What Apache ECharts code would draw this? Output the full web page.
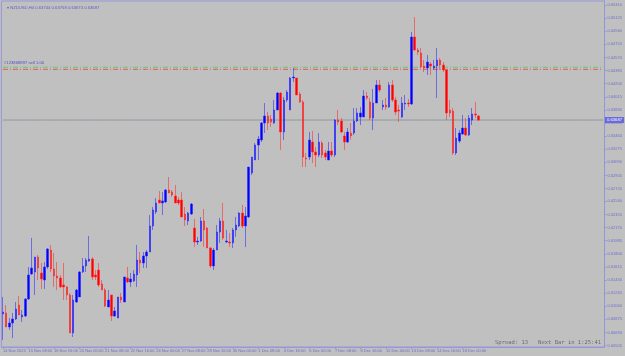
<!DOCTYPE html>
<html><head><meta charset="utf-8">
<script src="https://cdn.jsdelivr.net/npm/echarts@6/dist/echarts.min.js"></script>
<style>html,body{margin:0;padding:0;background:#c0c0c0}#c{width:625px;height:356px}</style>
</head><body><div id="c"></div>
<script>
const symbolTitle = 'NZDUSD,H4';
const opens = [0.60951,0.60965,0.60767,0.60824,0.60880,0.61078,0.60908,0.60922,0.61162,0.61515,
0.61543,0.61755,0.61529,0.61430,0.61614,0.61853,0.61586,0.61487,0.61459,0.61360,
0.61332,0.61219,0.60683,0.61120,0.61191,0.61543,0.61628,0.61698,0.61727,0.61501,
0.61571,0.61374,0.61289,0.61049,0.61219,0.60922,0.60894,0.61191,0.61120,0.61459,
0.61402,0.61416,0.61501,0.61712,0.61670,0.61769,0.61825,0.62192,0.62390,0.62559,
0.62517,0.62531,0.62700,0.62672,0.62615,0.62559,0.62559,0.62361,0.62263,0.62361,
0.62164,0.61966,0.61980,0.62263,0.62164,0.61882,0.61628,0.61853,0.62107,0.62263,
0.61966,0.61966,0.61952,0.62136,0.62192,0.62375,0.62192,0.62319,0.62940,0.63123,
0.63335,0.63405,0.63645,0.63744,0.63701,0.63645,0.63828,0.64068,0.63518,0.63969,
0.63828,0.64280,0.64280,0.64054,0.63941,0.63151,0.63165,0.63377,0.63236,0.63194,
0.63363,0.63222,0.63123,0.63250,0.63194,0.63687,0.63673,0.63462,0.63377,0.63504,
0.63504,0.63673,0.63730,0.63730,0.64026,0.63941,0.63715,0.63927,0.64181,0.63871,
0.63899,0.63871,0.64181,0.63969,0.63828,0.63730,0.63913,0.63927,0.63913,0.64858,
0.64675,0.64632,0.64449,0.64421,0.64477,0.64421,0.64449,0.64534,0.64463,0.64393,
0.63828,0.63814,0.63222,0.63391,0.63490,0.63574,0.63476,0.63687,0.63772,0.63744];
const closes = [0.60979,0.60767,0.60824,0.60880,0.61021,0.60937,0.60937,0.61162,0.61501,0.61600,
0.61755,0.61600,0.61444,0.61614,0.61868,0.61586,0.61487,0.61459,0.61332,0.61332,
0.61219,0.60683,0.61148,0.61289,0.61543,0.61628,0.61712,0.61727,0.61473,0.61473,
0.61360,0.61289,0.61064,0.61148,0.60922,0.60993,0.61191,0.61148,0.61473,0.61402,
0.61444,0.61515,0.61712,0.61670,0.61769,0.61825,0.62192,0.62418,0.62517,0.62517,
0.62545,0.62700,0.62658,0.62629,0.62517,0.62517,0.62319,0.62277,0.62375,0.62502,
0.61966,0.61980,0.62263,0.62136,0.61882,0.61628,0.61853,0.62107,0.62263,0.62023,
0.61980,0.61952,0.62136,0.62206,0.62375,0.62192,0.62333,0.63024,0.63165,0.63335,
0.63419,0.63645,0.63744,0.63645,0.63659,0.63828,0.64068,0.63518,0.63969,0.64082,
0.64280,0.64294,0.64040,0.63941,0.63165,0.63137,0.63405,0.63236,0.63194,0.63377,
0.63194,0.63165,0.63250,0.63194,0.63687,0.63659,0.63518,0.63377,0.63518,0.63462,
0.63673,0.63786,0.63786,0.64026,0.63998,0.63715,0.63927,0.64181,0.64110,0.63899,
0.63871,0.64181,0.63969,0.63800,0.63814,0.63927,0.63927,0.63913,0.64858,0.64675,
0.64646,0.64435,0.64421,0.64505,0.64449,0.64449,0.64534,0.64463,0.64393,0.63786,
0.63786,0.63222,0.63433,0.63504,0.63574,0.63476,0.63715,0.63772,0.63758,0.63687];
const lows = [0.60584,0.60767,0.60725,0.60612,0.60866,0.60937,0.60838,0.60908,0.61148,0.61501,
0.61219,0.61430,0.61303,0.61303,0.61586,0.61543,0.61332,0.61289,0.61318,0.61148,
0.61148,0.60683,0.60626,0.61106,0.61191,0.61529,0.61543,0.61684,0.61430,0.61430,
0.61332,0.61289,0.61049,0.61049,0.60852,0.60908,0.60894,0.61106,0.61120,0.61388,
0.61332,0.61402,0.61332,0.61529,0.61600,0.61600,0.61825,0.62136,0.62361,0.62517,
0.62347,0.62517,0.62658,0.62601,0.62517,0.62488,0.62319,0.62192,0.62206,0.62347,
0.61896,0.61924,0.61966,0.61896,0.61882,0.61600,0.61571,0.61853,0.61952,0.61995,
0.61952,0.61896,0.61882,0.62037,0.62178,0.62164,0.61896,0.62305,0.62911,0.63123,
0.63123,0.63377,0.63504,0.63546,0.63589,0.63631,0.63828,0.63264,0.63405,0.63941,
0.63828,0.64223,0.64040,0.63927,0.63024,0.63024,0.63123,0.63081,0.63024,0.63165,
0.63151,0.63123,0.63123,0.63165,0.63165,0.63617,0.63504,0.63264,0.63363,0.63405,
0.63476,0.63659,0.63617,0.63730,0.63969,0.63687,0.63546,0.63927,0.64082,0.63828,
0.63828,0.63857,0.63941,0.63758,0.63659,0.63715,0.63828,0.63871,0.63899,0.64661,
0.64604,0.64421,0.64364,0.64322,0.64322,0.64393,0.63998,0.64393,0.64364,0.63687,
0.63730,0.63194,0.63194,0.63363,0.63476,0.63462,0.63462,0.63617,0.63715,0.63673];
const highs = [0.61191,0.61078,0.60894,0.60965,0.61120,0.61205,0.61007,0.61176,0.61614,0.62023,
0.61755,0.61783,0.61670,0.61684,0.61882,0.61924,0.61811,0.61684,0.61501,0.61670,
0.61346,0.61247,0.61219,0.61303,0.61557,0.61741,0.61741,0.62051,0.61755,0.61571,
0.61670,0.61430,0.61318,0.61289,0.61219,0.61049,0.61191,0.61247,0.61473,0.61614,
0.61529,0.61571,0.61924,0.61825,0.61825,0.61853,0.62347,0.62460,0.62587,0.62686,
0.62672,0.62714,0.62883,0.62700,0.62770,0.62601,0.62672,0.62460,0.62390,0.62517,
0.62291,0.62037,0.62319,0.62432,0.62178,0.61896,0.61882,0.62206,0.62305,0.62517,
0.62136,0.62093,0.62164,0.62319,0.62390,0.62488,0.62460,0.63024,0.63165,0.63363,
0.63462,0.63659,0.63927,0.63800,0.63758,0.63969,0.64082,0.64082,0.64012,0.64110,
0.64294,0.64421,0.64280,0.64082,0.63969,0.63222,0.63518,0.63532,0.63306,0.63504,
0.63391,0.63264,0.63377,0.63377,0.63701,0.63828,0.63715,0.63518,0.63574,0.63645,
0.63857,0.63857,0.63871,0.64110,0.64082,0.63998,0.64125,0.64251,0.64251,0.63969,
0.63998,0.64223,0.64251,0.64012,0.63899,0.64012,0.64040,0.63983,0.64929,0.65140,
0.64703,0.64703,0.64534,0.64604,0.64505,0.64534,0.64703,0.64562,0.64505,0.64393,
0.63969,0.63857,0.63574,0.63546,0.63758,0.63715,0.63758,0.63857,0.63941,0.63758];
const xTickLabels = ['14 Nov 2023','15 Nov 08:00','16 Nov 16:00','20 Nov 00:00','21 Nov 08:00','22 Nov 16:00','24 Nov 00:00','27 Nov 08:00','28 Nov 16:00','30 Nov 00:00','1 Dec 08:00','4 Dec 16:00','6 Dec 00:00','7 Dec 08:00','8 Dec 16:00','12 Dec 00:00','13 Dec 08:00','14 Dec 16:00','18 Dec 00:00'];
const yTicks = [0.65310,0.65125,0.64940,0.64755,0.64570,0.64385,0.64200,0.64015,0.63830,0.63645,0.63460,0.63275,0.63090,0.62905,0.62720,0.62540,0.62355,0.62170,0.61985,0.61800,0.61615,0.61430,0.61245,0.61060,0.60875,0.60690,0.60505];
const orderPrice = 0.64431;
const stopPrice = 0.64402;
const orderLabel = '#123868897 sell 1.00';
const spreadText = 'Spread: 13   Next Bar in 1:25:41';
const labelStep = 8;
const totalSlots = 189;

const nBars = opens.length;
const bidPrice = closes[nBars - 1];
const cats = [];
for (let i = 0; i < totalSlots; i++) cats.push(String(i));
const candles = opens.map((o, i) => [o, closes[i], lows[i], highs[i]]);
const last = nBars - 1;
const titleText = symbolTitle + ' ' + opens[last].toFixed(5) + ' ' + highs[last].toFixed(5) + ' ' + lows[last].toFixed(5) + ' ' + closes[last].toFixed(5);

const orderLineData = cats.map((c, i) => i === 0 ? {value: orderPrice, label: {show: true}} : orderPrice);
const stopLineData = cats.map(() => stopPrice);
const bidLineData = cats.map(() => bidPrice);

const axisColor = '#9696dc';
const textColor = '#6d6dd2';
const chart = echarts.init(document.getElementById('c'), null, {renderer: 'canvas'});
chart.setOption({
  animation: false,
  backgroundColor: '#c0c0c0',
  title: {text: '\u25BE ' + titleText, left: 2, top: 1, textStyle: {fontSize: 4.2, fontWeight: 'normal', color: '#5c5cc4', fontFamily: 'Liberation Sans'}},
  grid: {left: 1, right: 19, top: 1, bottom: 9, show: true, borderColor: axisColor, borderWidth: 1, backgroundColor: 'transparent'},
  xAxis: {
    type: 'category', data: cats, boundaryGap: true,
    axisLine: {show: true, lineStyle: {color: axisColor, width: 1}},
    axisTick: {show: true, length: 2, interval: (i) => i % labelStep === 0 && i / labelStep < xTickLabels.length, lineStyle: {color: axisColor}, alignWithLabel: true},
    axisLabel: {show: true, interval: (i) => i % labelStep === 0 && i / labelStep < xTickLabels.length, hideOverlap: false,
      formatter: (v, i) => xTickLabels[i / labelStep] || '', fontSize: 4, color: textColor, align: 'left', margin: 2, fontFamily: 'Liberation Sans'},
    splitLine: {show: false}
  },
  yAxis: {
    type: 'value', position: 'right', min: 0.60485, max: 0.65366, scale: true,
    axisLine: {show: true, lineStyle: {color: axisColor, width: 1}},
    axisTick: {show: true, length: 2, customValues: yTicks, lineStyle: {color: axisColor}},
    axisLabel: {show: true, customValues: yTicks, hideOverlap: false, formatter: (v) => v.toFixed(5), fontSize: 4, color: textColor, margin: 3, fontFamily: 'Liberation Sans'},
    splitLine: {show: false}
  },
  graphic: [{type: 'text', right: 24, bottom: 10, style: {text: spreadText, font: '5.5px "DejaVu Sans Mono"', fill: '#6c6c6c'}}],
  series: [
    {type: 'line', data: bidLineData, silent: true, showSymbol: false, symbol: 'none', z: 1,
      lineStyle: {color: '#8e98a0', type: 'solid', width: 1},
      endLabel: {show: true, formatter: () => bidPrice.toFixed(5), fontSize: 4.2, color: '#ffffff', backgroundColor: '#6a6ad8', padding: [1, 2, 1, 2], distance: 2, fontFamily: 'Liberation Sans'}},
    {type: 'line', data: stopLineData, silent: true, showSymbol: false, symbol: 'none', z: 1,
      lineStyle: {color: '#e05a4e', type: [5, 2, 1, 2], width: 1}},
    {type: 'line', data: orderLineData, silent: true, symbol: 'circle', symbolSize: 0, showSymbol: true, z: 1,
      itemStyle: {color: 'rgba(0,0,0,0)'},
      lineStyle: {color: '#6cc46c', type: [5, 2, 1, 2], width: 1},
      label: {show: false, position: [1, -6], formatter: orderLabel, fontSize: 4.2, color: '#5050c8', align: 'left', verticalAlign: 'top', fontFamily: 'Liberation Sans'}},
    {type: 'candlestick', data: candles, barWidth: 2, z: 3,
      itemStyle: {color: '#0000ff', color0: '#ff0000', borderColor: 'rgba(40,40,255,0.55)', borderColor0: 'rgba(255,40,40,0.55)', borderWidth: 1}}
  ]
});
</script></body></html>
